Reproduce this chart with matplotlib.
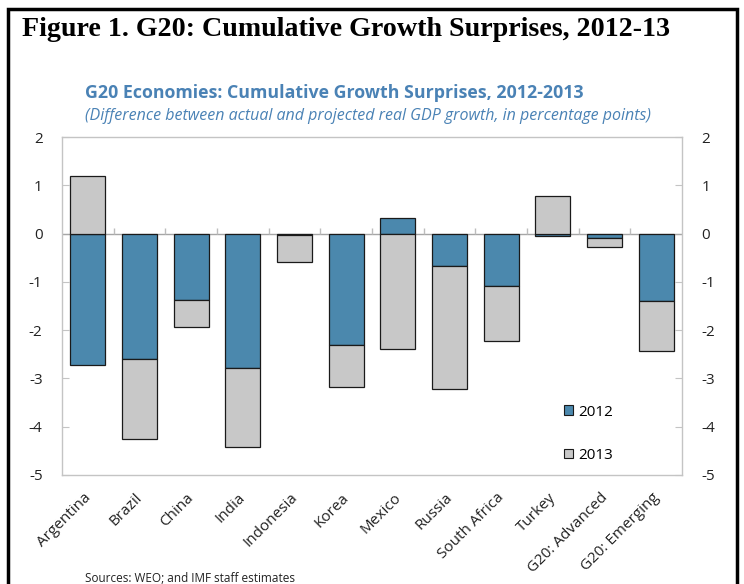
import numpy as np
import matplotlib
matplotlib.use("Agg")
import matplotlib.pyplot as plt
import matplotlib.transforms as mtransforms
from matplotlib.patches import Rectangle

# Cumulative growth surprises, percentage points
countries = ["Argentina", "Brazil", "China", "India", "Indonesia", "Korea",
             "Mexico", "Russia", "South Africa", "Turkey", "G20: Advanced",
             "G20: Emerging"]
surprise_2012 = [-2.72, -2.60, -1.38, -2.79, -0.02, -2.31,
                 0.32, -0.67, -1.09, -0.06, -0.09, -1.40]
surprise_2013 = [1.20, -1.66, -0.56, -1.64, -0.57, -0.86,
                 -2.39, -2.54, -1.13, 0.77, -0.18, -1.03]
yticks = [2, 1, 0, -1, -2, -3, -4, -5]

BLUE = "#4b88ad"
GREY = "#c8c8c8"
TITLE_BLUE = "#4a82b5"
SANS = "Open Sans"

plt.rcParams['font.family'] = [SANS, 'DejaVu Sans']
plt.rcParams['axes.unicode_minus'] = False

fig = plt.figure(figsize=(7.44, 5.84), dpi=100)
ax = fig.add_axes([62 / 744, 109 / 584, 620 / 744, 338 / 584])

x = np.arange(len(countries))
s12 = np.array(surprise_2012)
s13 = np.array(surprise_2013)
# 2013 stacks on 2012 when both point the same way
base13 = np.where(np.sign(s12) == np.sign(s13), s12, 0)

w = 0.68
ax.bar(x, s12, width=w, color=BLUE, edgecolor="#1a1a1a", linewidth=0.9,
       label="2012", zorder=3)
ax.bar(x, s13, width=w, bottom=base13, color=GREY, edgecolor="#1a1a1a",
       linewidth=0.9, label="2013", zorder=3)

ax.set_xlim(-0.5, len(countries) - 0.5)
ax.set_ylim(-5, 2)
ax.axhline(0, color="#a6a6a6", linewidth=1.0, zorder=2)
# category separators on the zero line
ax.vlines(x[:-1] + 0.5, 0, 0.11, color="#bdbdbd", linewidth=1.0, zorder=2)

for s in ax.spines.values():
    s.set_color("#c4c4c4")
    s.set_linewidth(1.0)

ax.set_yticks(yticks)
ax.tick_params(axis="y", which="both", direction="in", length=5,
               color="#c4c4c4", labelsize=11, left=True, right=True,
               labelleft=True, labelright=True)
ax.tick_params(axis="y", which="major", pad=14)
for lab in ax.get_yticklabels(which="major"):
    lab.set_color("#222222")

ax.set_xticks(x)
ax.set_xticklabels(countries, rotation=45, ha="right", va="top",
                   rotation_mode="default", fontsize=11, color="#222222")
ax.tick_params(axis="x", length=0, pad=11)
shift = mtransforms.ScaledTranslation(6 / 100, 0, fig.dpi_scale_trans)
for lab in ax.get_xticklabels():
    lab.set_transform(lab.get_transform() + shift)

leg = ax.legend(loc="upper left", bbox_to_anchor=(556 / 744, 1 - 397 / 584),
                bbox_transform=fig.transFigure, frameon=False, fontsize=11,
                handlelength=0.6, handleheight=0.6, handletextpad=0.35,
                labelspacing=1.85, borderpad=0)
for h in leg.legend_handles:
    h.set_linewidth(0.8)

fig.text(22 / 744, 1 - 36 / 584, "Figure 1. G20: Cumulative Growth Surprises, 2012-13",
         family="Liberation Serif", fontweight="bold", fontsize=20.2,
         ha="left", va="baseline", color="black")
fig.text(85 / 744, 1 - 93 / 584,
         "G20 Economies: Cumulative Growth Surprises, 2012-2013",
         fontweight="bold", fontsize=12.8, color=TITLE_BLUE,
         ha="left", va="center")
fig.text(85 / 744, 1 - 116 / 584,
         "(Difference between actual and projected real GDP growth, in percentage points)",
         style="italic", fontsize=11.5, color=TITLE_BLUE, ha="left", va="center")
fig.text(85 / 744, 1 - 578 / 584, "Sources: WEO; and IMF staff estimates",
         fontsize=8.5, color="#222222", ha="left", va="center")

# black frame round the figure
fig.patches.append(Rectangle((8 / 744, -0.05), 729 / 744, 1.05 - 9 / 584,
                             transform=fig.transFigure, fill=False,
                             edgecolor="black", linewidth=2.5))

fig.savefig("out.png", dpi=100)
